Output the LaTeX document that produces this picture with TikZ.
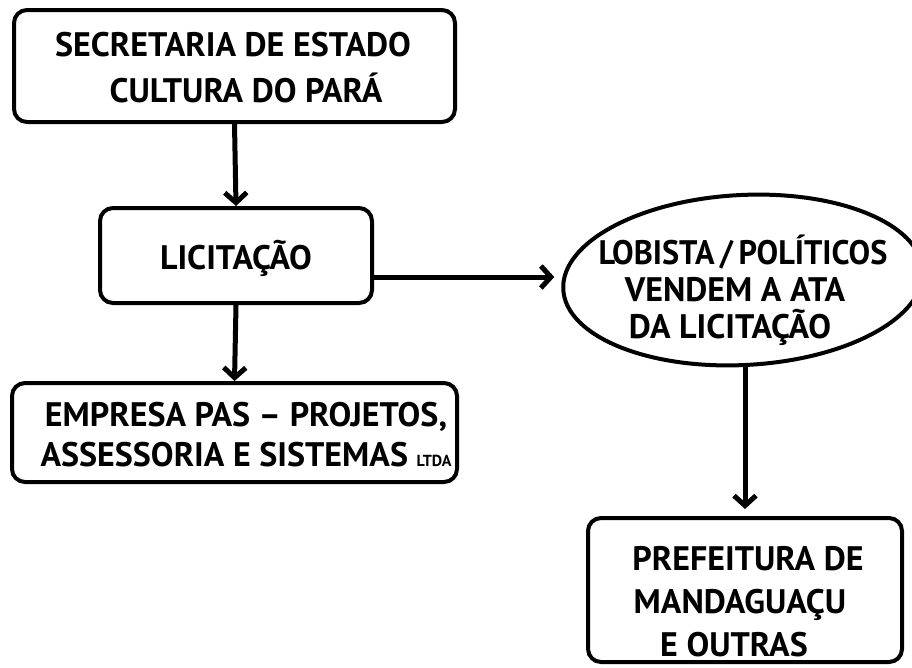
\documentclass[tikz,border=0pt]{standalone}
\usepackage{fontspec}
\usepackage{graphicx}
\setmainfont{PT Sans}
\usetikzlibrary{arrows.meta,shapes.geometric}
\tikzset{
  boxnode/.style={draw=black, line width=4pt, rounded corners=13pt, inner sep=0pt},
  txt/.style={align=center, inner sep=0pt, font=\bfseries\fontsize{34}{#1}\selectfont},
  conn/.style={draw=black, line width=5pt, -{Straight Barb[length=10pt,width=22pt,line width=5pt]}}
}
\begin{document}
\begin{tikzpicture}[x=1pt,y=-1pt]
\useasboundingbox (0,0) rectangle (912,667);
% boxes
\node[boxnode, minimum width=441pt, minimum height=112pt] (b1) at (234.5,66) {};
\node[txt=46] (t1) at (233,68) {SECRETARIA DE ESTADO\\\null\kern26pt CULTURA DO PARÁ};
\node[boxnode, minimum width=272pt, minimum height=95pt] (b2) at (236,255.5) {};
\node[txt=40] (t2) at (236,258) {LICITAÇÃO};
\node[boxnode, minimum width=445pt, minimum height=99pt] (b3) at (234.5,432.5) {};
\node[txt=40] (t3) at (246,435) {EMPRESA PAS – PROJETOS,\\ASSESSORIA E SISTEMAS {\fontsize{16}{16}\selectfont LTDA}};
\node[draw=black, line width=4pt, ellipse, minimum width=360pt, minimum height=170pt, inner sep=0pt, rotate=3] (ell) at (743,280) {};
\node[txt=37] (t4) at (743,290) {\scalebox{0.95}[1]{LOBISTA\,/\,POLÍTICOS}\\VENDEM A ATA\kern16pt\null\\DA LICITAÇÃO\kern26pt\null};
\node[boxnode, minimum width=314pt, minimum height=144pt] (b4) at (745,590) {};
\node[txt=43] (t5) at (748,602) {PREFEITURA DE\\MANDAGUAÇU\kern16pt\null\\E OUTRAS\kern28pt\null};
% connectors
\draw[conn] (b1.south) -- (b2.north);
\draw[conn] (b2.south) -- (b3.north);
\coordinate (s) at ([yshift=-21.5pt]b2.east);
\draw[conn, shorten >=7pt] (s) -- (s -| ell.west);
\draw[conn, shorten >=7pt] (b4.north |- ell.south) -- (b4.north);
\end{tikzpicture}
\end{document}
